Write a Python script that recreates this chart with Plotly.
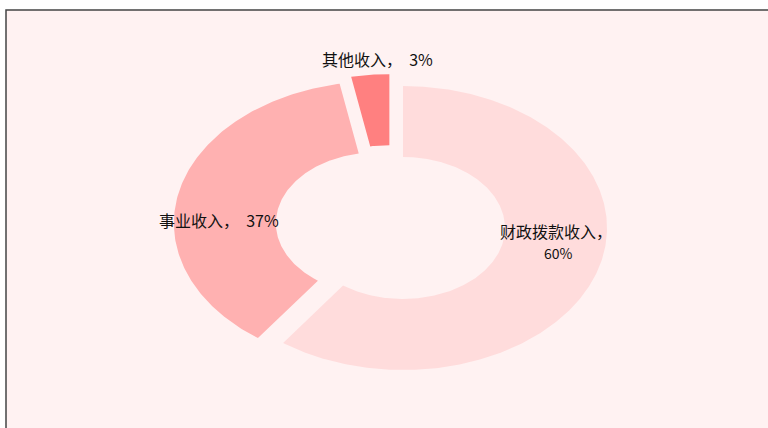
import math
import plotly.graph_objects as go

# ---- data ----
categories = ["财政拨款收入", "事业收入", "其他收入"]
values = [60, 37, 3]
colors = ["#ffdcdc", "#ffb1b1", "#ff8080"]
label_lines = [["财政拨款收入，", "60%"], ["事业收入，  37%"], ["其他收入，  3%"]]

W, H = 768, 428
CX, CY = 390.6, 225.2      # pie centre in pixels
RX, RY = 204.0, 142.0      # outer radii in pixels (stretched ellipse)
HOLE = 0.5
PULL = 0.064

def px2x(p):
    return (p - CX) / RX

def py2y(p):
    return (CY - p) / RY

fig = go.Figure()
total = sum(values)
start = 0.0
for cat, v, col in zip(categories, values, colors):
    a0 = start / total * 2 * math.pi
    a1 = (start + v) / total * 2 * math.pi
    start += v
    am = (a0 + a1) / 2
    ox, oy = PULL * math.sin(am), PULL * math.cos(am)
    n = max(8, int((a1 - a0) * 80))
    xs, ys = [], []
    for i in range(n + 1):
        t = a0 + (a1 - a0) * i / n
        xs.append(ox + math.sin(t))
        ys.append(oy + math.cos(t))
    for i in range(n + 1):
        t = a1 - (a1 - a0) * i / n
        xs.append(ox + HOLE * math.sin(t))
        ys.append(oy + HOLE * math.cos(t))
    xs.append(xs[0]); ys.append(ys[0])
    fig.add_trace(go.Scatter(x=xs, y=ys, mode="lines", fill="toself",
                             fillcolor=col, line=dict(width=0),
                             name=cat, hoverinfo="skip", showlegend=False))

label_px = [[(556, 231), (558, 253)], [(219, 220)], [(377, 59)]]
label_sizes = [[16, 14], [16], [16]]
for lines, poss, sizes in zip(label_lines, label_px, label_sizes):
    for txt, (lx, ly), fs in zip(lines, poss, sizes):
        fig.add_annotation(x=px2x(lx), y=py2y(ly), text=txt, showarrow=False,
                           xanchor="center", yanchor="middle",
                           font=dict(family="Noto Sans CJK SC", size=fs, color="#111111"))

fig.add_shape(type="rect", xref="paper", yref="paper",
              x0=6 / W, x1=1.05, y0=-0.05, y1=1 - 10 / H,
              fillcolor="#fff2f2", line=dict(color="#444444", width=1.5),
              layer="below")

fig.update_layout(
    width=W, height=H,
    margin=dict(l=0, r=0, t=0, b=0),
    paper_bgcolor="white", plot_bgcolor="rgba(0,0,0,0)",
    xaxis=dict(range=[px2x(0), px2x(W)], visible=False, fixedrange=True),
    yaxis=dict(range=[py2y(H), py2y(0)], visible=False, fixedrange=True),
    showlegend=False,
)
fig.write_html("out.html", config={"displayModeBar": False},
               post_script="document.body.style.margin='0';document.body.style.overflow='hidden';")
